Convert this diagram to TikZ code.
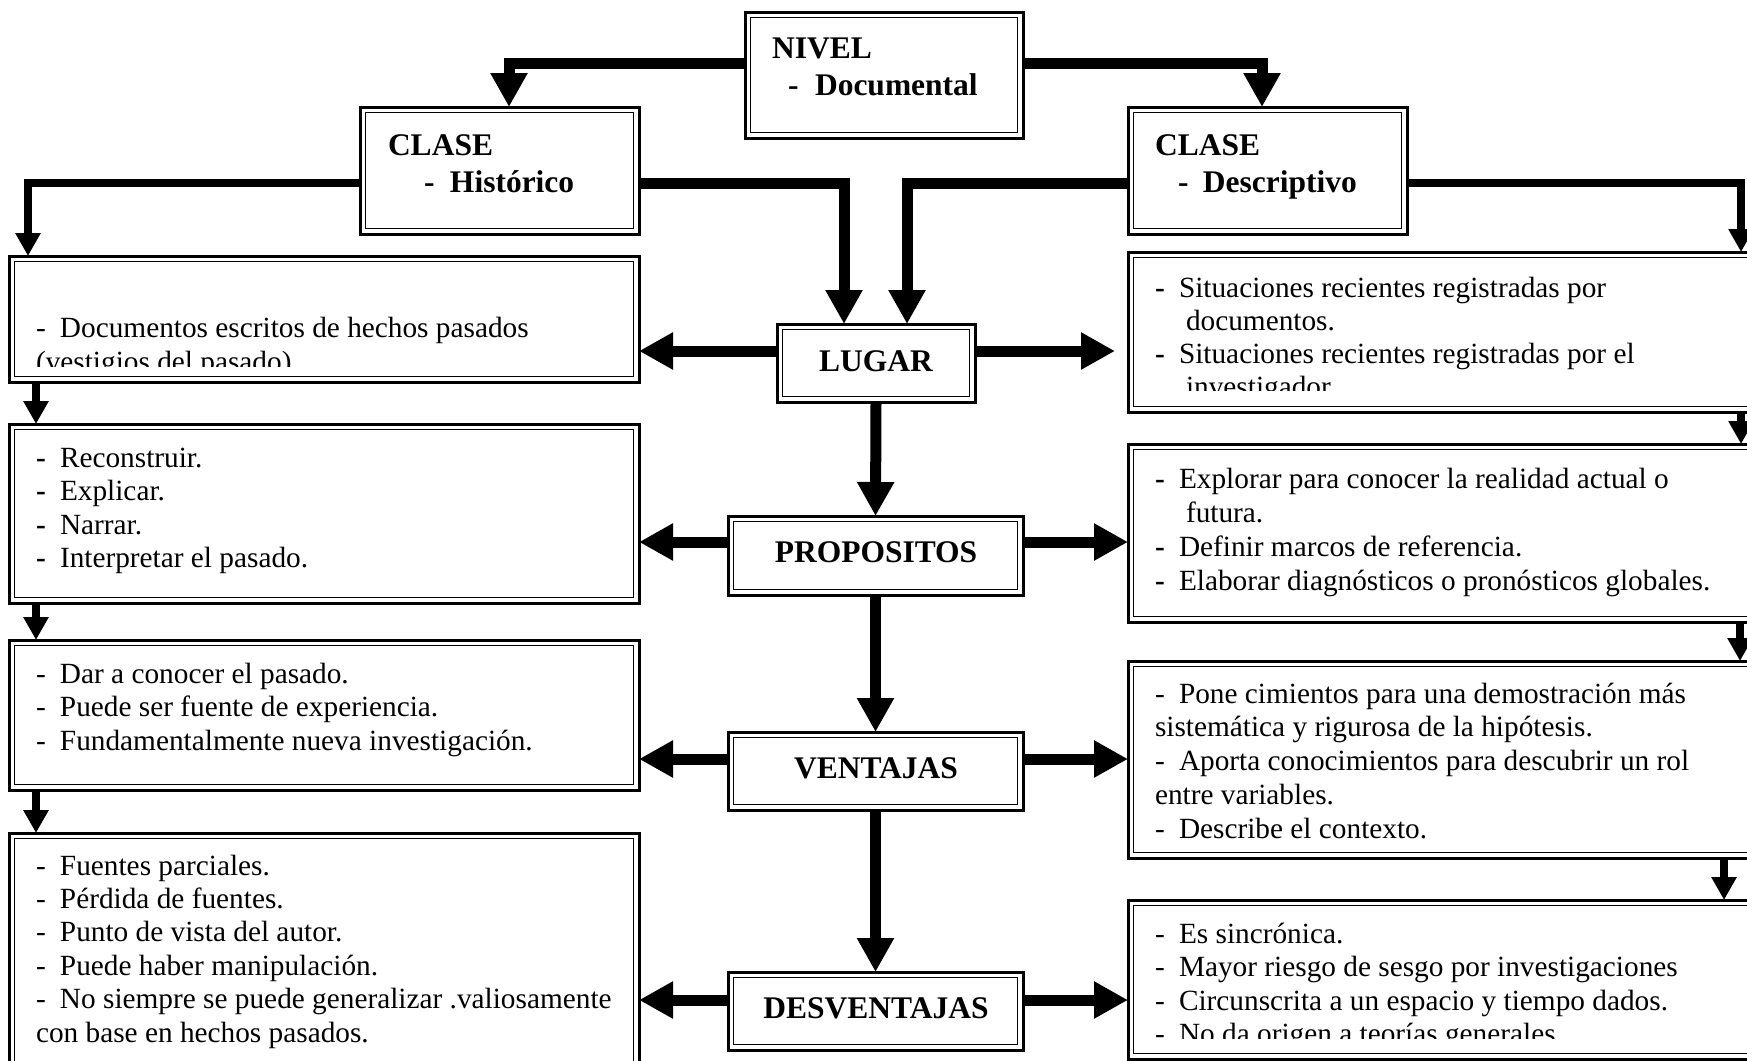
\documentclass[tikz,border=0pt]{standalone}
\usepackage{fontspec}
\setmainfont{Liberation Serif}
\usetikzlibrary{arrows.meta}
\newcommand\dd{\makebox[24pt][l]{-}}
\newcommand\bd{\makebox[24pt][l]{\textbf{-}}}
\tikzset{
  dbox/.style={draw, line width=3pt, fill=white, inner sep=0pt, outer sep=0pt, anchor=north west,
    path picture={\draw[line width=1.8pt] ([xshift=5.5pt,yshift=-5.5pt]path picture bounding box.north west) rectangle ([xshift=-5.5pt,yshift=5.5pt]path picture bounding box.south east);}},
  txt/.style={anchor=base west, inner sep=0pt, outer sep=0pt, font=\fontsize{29.3}{34}\selectfont},
  hd/.style={anchor=base west, inner sep=0pt, outer sep=0pt, font=\fontsize{31.5}{37}\selectfont\bfseries},
  hdc/.style={hd, anchor=base},
  big/.style={line width=11pt, line join=miter, -{Triangle[width=35pt,length=34pt]}},
  small/.style={line width=8pt, line join=miter, -{Triangle[width=24pt,length=23pt]}},
}
\begin{document}
\begin{tikzpicture}[x=1pt,y=-1pt]
\clip (0,0) rectangle (1747,1060);
\fill[white] (0,0) rectangle (1747,1060);
% boxes
\node[dbox, minimum width=278pt, minimum height=126pt] (niv) at (745,12) {};
\node[dbox, minimum width=279pt, minimum height=127pt] (hist) at (360,107) {};
\node[dbox, minimum width=279pt, minimum height=127pt] (desc) at (1128,107) {};
\node[dbox, minimum width=630pt, minimum height=126pt] (lb1) at (9,256) {};
\node[dbox, minimum width=630pt, minimum height=179pt] (lb2) at (9,424) {};
\node[dbox, minimum width=630pt, minimum height=150pt] (lb3) at (9,640) {};
\node[dbox, minimum width=630pt, minimum height=250pt] (lb4) at (9,833) {};
\node[dbox, minimum width=640pt, minimum height=160pt] (rb1) at (1128,252) {};
\node[dbox, minimum width=640pt, minimum height=178pt] (rb2) at (1128,444) {};
\node[dbox, minimum width=640pt, minimum height=197pt] (rb3) at (1128,661) {};
\node[dbox, minimum width=640pt, minimum height=159pt] (rb4) at (1128,900) {};
\node[dbox, minimum width=198pt, minimum height=78pt] (lug) at (777,324) {};
\node[dbox, minimum width=295pt, minimum height=79pt] (pro) at (728,516) {};
\node[dbox, minimum width=295pt, minimum height=78pt] (ven) at (728,732) {};
\node[dbox, minimum width=295pt, minimum height=78pt] (des) at (728,972) {};
% headings
\node[hd] (nivA) at (772,58) {NIVEL};
\node[hd] (nivB) at (788,95) {\makebox[27pt][l]{-}Documental};
\node[hd] (histA) at (388,155) {CLASE};
\node[hd] (histB) at (424,192) {\makebox[26pt][l]{-}Histórico};
\node[hd] (descA) at (1155,155) {CLASE};
\node[hd] (descB) at (1178,192) {\makebox[25pt][l]{-}Descriptivo};
\node[hdc] (lugT) at (876,371) {LUGAR};
\node[hdc] (proT) at (876,562) {PROPOSITOS};
\node[hdc] (venT) at (876,778) {VENTAJAS};
\node[hdc] (desT) at (876,1018) {DESVENTAJAS};
% left texts
\begin{scope}
\clip (9,256) rectangle (639,366);
\foreach \t [count=\i] in {{\dd Documentos escritos de hechos pasados},{(vestigios del pasado)}}
  \node[txt] (lt1-\i) at (36,{337+(\i-1)*34}) {\t};
\end{scope}
\foreach \t [count=\i] in {{\bd Reconstruir.},{\bd Explicar.},{\bd Narrar.},{\bd Interpretar el pasado.}}
  \node[txt] (lt2-\i) at (36,{467+(\i-1)*33.5}) {\t};
\foreach \t [count=\i] in {{\dd Dar a conocer el pasado.},{\dd Puede ser fuente de experiencia.},{\dd Fundamentalmente nueva investigación.}}
  \node[txt] (lt3-\i) at (36,{683+(\i-1)*33.5}) {\t};
\foreach \t [count=\i] in {{\dd Fuentes parciales.},{\dd Pérdida de fuentes.},{\dd Punto de vista del autor.},{\dd Puede haber manipulación.},{\dd No siempre se puede generalizar .valiosamente},{con base en hechos pasados.}}
  \node[txt] (lt4-\i) at (36,{875+(\i-1)*33.4}) {\t};
% right texts
\begin{scope}
\clip (1128,252) rectangle (1747,390);
\foreach \t [count=\i] in {{\bd Situaciones recientes registradas por},{\hspace*{31pt}documentos.},{\bd Situaciones recientes registradas por el},{\hspace*{31pt}investigador.}}
  \node[txt] (rt1-\i) at (1155,{297+(\i-1)*33}) {\t};
\end{scope}
\foreach \t [count=\i] in {{\bd Explorar para conocer la realidad actual o},{\hspace*{31pt}futura.},{\bd Definir marcos de referencia.},{\bd Elaborar diagnósticos o pronósticos globales.}}
  \node[txt] (rt2-\i) at (1155,{488+(\i-1)*34}) {\t};
\foreach \t [count=\i] in {{\dd Pone cimientos para una demostración más},{sistemática y rigurosa de la hipótesis.},{\dd Aporta conocimientos para descubrir un rol},{entre variables.},{\dd Describe el contexto.}}
  \node[txt] (rt3-\i) at (1155,{703+(\i-1)*33.8}) {\t};
\begin{scope}
\clip (1128,900) rectangle (1747,1038);
\foreach \t [count=\i] in {{\dd Es sincrónica.},{\dd Mayor riesgo de sesgo por investigaciones},{\dd Circunscrita a un espacio y tiempo dados.},{\dd No da origen a teorías generales.}}
  \node[txt] (rt4-\i) at (1155,{943+(\i-1)*33.5}) {\t};
\end{scope}
% connectors
\draw[big] (niv.west |- 0,63) -| (509,0 |- hist.north);
\draw[big] (niv.east |- 0,63) -| (1262,0 |- desc.north);
\draw[small] (hist.west |- 0,183) -| (28,0 |- lb1.north);
\draw[big] (hist.east |- 0,183) -| (844,0 |- lug.north);
\draw[big] (desc.west |- 0,183) -| (907,0 |- lug.north);
\draw[small] (desc.east |- 0,183) -| (1741,0 |- rb1.north);
\draw[big] (lug.west |- 0,351) -- (lb1.east |- 0,351);
\draw[big, shorten >=13pt] (lug.east |- 0,351) -- (rb1.west |- 0,351);
\draw[big] (lug.south) -- (pro.north);
\draw[big] (pro.west |- 0,542) -- (lb2.east |- 0,542);
\draw[big] (pro.east |- 0,542) -- (rb2.west |- 0,542);
\draw[big] (pro.south) -- (ven.north);
\draw[big] (ven.west |- 0,759) -- (lb3.east |- 0,759);
\draw[big] (ven.east |- 0,759) -- (rb3.west |- 0,759);
\draw[big] (ven.south) -- (des.north);
\draw[big] (des.west |- 0,1000) -- (lb4.east |- 0,1000);
\draw[big] (des.east |- 0,1000) -- (rb4.west |- 0,1000);
\draw[small] (36,0 |- lb1.south) -- (36,0 |- lb2.north);
\draw[small] (36,0 |- lb2.south) -- (36,0 |- lb3.north);
\draw[small] (36,0 |- lb3.south) -- (36,0 |- lb4.north);
\draw[small] (1741,0 |- rb1.south) -- (1741,0 |- rb2.north);
\draw[small] (1740,0 |- rb2.south) -- (1740,0 |- rb3.north);
\draw[small] (1724,0 |- rb3.south) -- (1724,0 |- rb4.north);
\end{tikzpicture}
\end{document}
